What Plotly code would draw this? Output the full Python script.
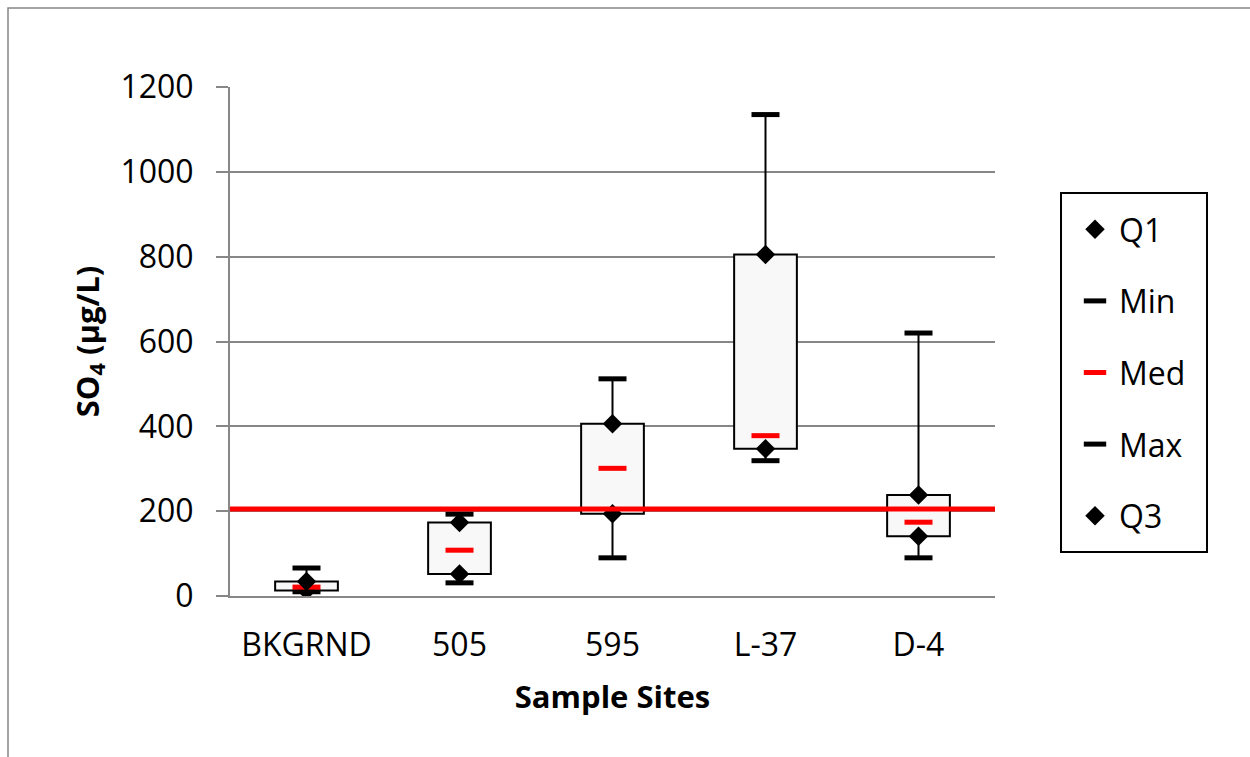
import plotly.graph_objects as go

# ---- data ----
sites = ["BKGRND", "505", "595", "L-37", "D-4"]
q1_vals = [13, 52, 194, 347, 141]
min_vals = [10, 31, 90, 319, 90]
med_vals = [21, 108, 301, 378, 174]
max_vals = [66, 193, 512, 1135, 620]
q3_vals = [34, 173, 406, 805, 238]
threshold = 205
y_ticks = [0, 200, 400, 600, 800, 1000, 1200]

FONT = "Open Sans"
GRID = "#878787"
L, R, T, B = 230, 995, 87, 596
PW, PH = R - L, B - T


def px_x(x):
    return (x - L) / PW


def px_y(y):
    return (B - y) / PH


fig = go.Figure()

# box (Q1 -> Q3)
fig.add_trace(go.Bar(
    x=sites, y=[b - a for a, b in zip(q1_vals, q3_vals)], base=q1_vals,
    width=0.41, marker=dict(color="#f8f8f8", line=dict(color="black", width=2)),
    showlegend=False, hoverinfo="skip"))

# whiskers
wx, wy = [], []
for s, lo, a, b, hi in zip(sites, min_vals, q1_vals, q3_vals, max_vals):
    wx += [s, s, None, s, s, None]
    wy += [b, hi, None, lo, a, None]
fig.add_trace(go.Scatter(x=wx, y=wy, mode="lines", line=dict(color="black", width=2),
                         showlegend=False, hoverinfo="skip"))

dash = dict(symbol="line-ew", size=20, line=dict(width=5, color="black"))
fig.add_trace(go.Scatter(x=sites, y=q1_vals, mode="markers", name="Q1", legendgroup="a",
                         marker=dict(symbol="diamond", size=15, color="black")))
fig.add_trace(go.Scatter(x=sites, y=min_vals, mode="markers", name="Min", legendgroup="b",
                         marker=dash))
fig.add_trace(go.Scatter(x=sites, y=med_vals, mode="markers", name="Med", legendgroup="c",
                         marker=dict(symbol="line-ew", size=20, line=dict(width=5, color="#ff0000"))))
fig.add_trace(go.Scatter(x=sites, y=max_vals, mode="markers", name="Max", legendgroup="d",
                         marker=dash))
fig.add_trace(go.Scatter(x=sites, y=q3_vals, mode="markers", name="Q3", legendgroup="e",
                         marker=dict(symbol="diamond", size=15, color="black")))

# threshold line
fig.add_shape(type="line", xref="paper", x0=0, x1=1, yref="y", y0=threshold, y1=threshold,
              line=dict(color="#ff0000", width=5), layer="above")

# outer chart border (cut off on right/bottom)
fig.add_shape(type="rect", xref="paper", yref="paper",
              x0=px_x(8), x1=px_x(1270), y0=px_y(780), y1=px_y(8),
              line=dict(color="#868686", width=1.5), fillcolor="rgba(0,0,0,0)", layer="below")

# legend frame
fig.add_shape(type="rect", xref="paper", yref="paper",
              x0=px_x(1061), x1=px_x(1207), y0=px_y(552), y1=px_y(193),
              line=dict(color="black", width=2), fillcolor="rgba(0,0,0,0)", layer="above")

fig.update_layout(
    width=1250, height=757,
    margin=dict(l=L, r=1250 - R, t=T, b=757 - B),
    paper_bgcolor="white", plot_bgcolor="white",
    font=dict(family=FONT, size=32, color="black"),
    showlegend=True,
    legend=dict(x=px_x(1071), y=px_y(202), xanchor="left", yanchor="top",
                borderwidth=0, bgcolor="rgba(0,0,0,0)", tracegroupgap=27, itemwidth=38,
                font=dict(family=FONT, size=32, color="black")),
    xaxis=dict(type="category", showgrid=False, showline=True, linecolor=GRID, linewidth=2,
               ticks="", ticklabelstandoff=20, range=[-0.5, 4.5],
               title=dict(text="Sample Sites", standoff=22,
                          font=dict(family=FONT, size=31, weight="bold"))),
    yaxis=dict(range=[0, 1200], tickvals=y_ticks, showgrid=True, gridcolor=GRID, gridwidth=2,
               showline=True, linecolor=GRID, linewidth=2, ticks="outside", ticklen=12,
               tickcolor=GRID, tickwidth=2, ticklabelstandoff=16, zeroline=False,
               title=dict(text="SO<sub>4</sub> (µg/L)", standoff=12,
                          font=dict(family=FONT, size=31, weight="bold"))),
)

fig.write_html("out.html")
